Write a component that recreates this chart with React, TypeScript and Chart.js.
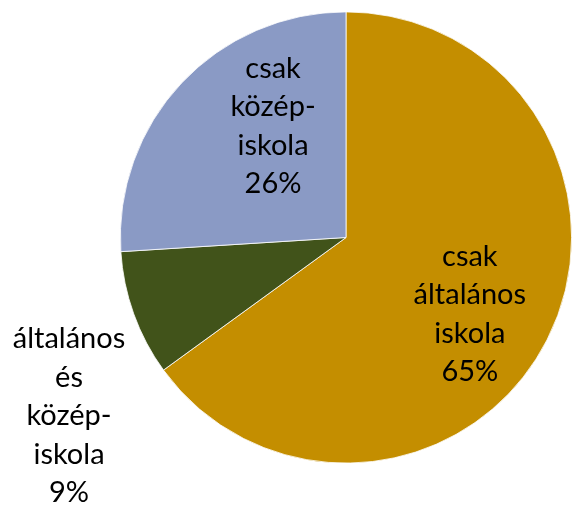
import React, { useEffect, useRef } from "react";
import { Chart, registerables } from "chart.js";

Chart.register(...registerables);

const categories: string[][] = [
  ["csak", "általános", "iskola"],
  ["általános", "és", "közép-", "iskola"],
  ["csak", "közép-", "iskola"],
];
const shares: number[] = [65, 9, 26];
const colors: string[] = ["#C48E00", "#41531A", "#8A9AC5"];

// label placement: fraction along slice angle, fraction of radius
const labelAngleFrac: number[] = [0.52, 0.1, 0.645];
const labelRadiusFrac: number[] = [0.645, 1.46, 0.59];

const FONT = "Lato, 'Open Sans', sans-serif";
const FONT_SIZE = 29;
const LINE_H = 38.5;

const labelPlugin = {
  id: "sliceLabels",
  afterDatasetsDraw(chart: any) {
    const ctx = chart.ctx;
    const meta = chart.getDatasetMeta(0);
    const data = chart.data.datasets[0].data as number[];
    const total = data.reduce((a, b) => a + b, 0);
    ctx.save();
    ctx.fillStyle = "#000000";
    ctx.font = `${FONT_SIZE}px ${FONT}`;
    ctx.textAlign = "center";
    ctx.textBaseline = "middle";
    meta.data.forEach((arc: any, i: number) => {
      const { x, y, startAngle, endAngle, outerRadius } = arc.getProps(
        ["x", "y", "startAngle", "endAngle", "outerRadius"],
        true
      );
      const ang = startAngle + labelAngleFrac[i] * (endAngle - startAngle);
      const r = labelRadiusFrac[i] * outerRadius;
      const cx = x + Math.cos(ang) * r;
      const cy = y + Math.sin(ang) * r;
      const lines = [...categories[i], `${Math.round((data[i] / total) * 100)}%`];
      const h = (lines.length - 1) * LINE_H;
      lines.forEach((ln, k) => {
        ctx.fillText(ln, cx, cy - h / 2 + k * LINE_H);
      });
    });
    ctx.restore();
  },
};

export default function App() {
  const ref = useRef<HTMLCanvasElement | null>(null);
  useEffect(() => {
    document.body.style.margin = "0";
    const chart = new Chart(ref.current as HTMLCanvasElement, {
      type: "pie",
      data: {
        labels: categories.map((c) => c.join(" ")),
        datasets: [
          {
            data: shares,
            backgroundColor: colors,
            borderColor: "#ffffff",
            borderWidth: 0.8,
          },
        ],
      },
      options: {
        responsive: false,
        animation: false,
        layout: { padding: { left: 120, right: -3, top: 10, bottom: 45 } },
        plugins: {
          legend: { display: false },
          tooltip: { enabled: false },
        },
      },
      plugins: [labelPlugin],
    });
    return () => chart.destroy();
  }, []);
  return (
    <div style={{ position: "fixed", left: 0, top: 0, width: 572, height: 510, background: "#fff" }}>
      <canvas ref={ref} width={572} height={510} />
    </div>
  );
}
